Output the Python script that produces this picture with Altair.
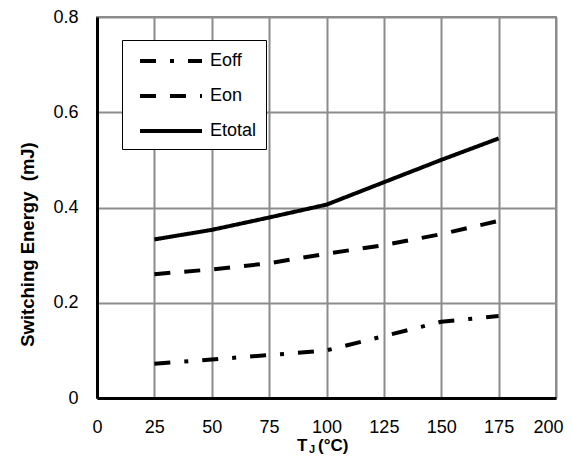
import altair as alt
import pandas as pd

temps = [25, 50, 75, 100, 125, 150, 175]
eoff = [0.072, 0.081, 0.090, 0.100, 0.130, 0.160, 0.172]
eon = [0.260, 0.270, 0.283, 0.303, 0.321, 0.344, 0.372]
etotal = [0.333, 0.353, 0.379, 0.406, 0.453, 0.500, 0.545]
series = ["Eoff", "Eon", "Etotal"]
x_ticks = [0, 25, 50, 75, 100, 125, 150, 175, 200]
y_ticks = [0, 0.2, 0.4, 0.6, 0.8]

rows = []
for name, vals in zip(series, [eoff, eon, etotal]):
    for t, v in zip(temps, vals):
        rows.append({"T": t, "E": v, "s": name})
df = pd.DataFrame(rows)

FONT = "Liberation Sans"

lines = alt.Chart(df).mark_line(color="black", strokeWidth=4, strokeCap="butt", strokeJoin="round").encode(
    x=alt.X("T:Q", scale=alt.Scale(domain=[0, 200], nice=False),
            axis=alt.Axis(values=x_ticks, title=None, labelPadding=20,
                          labelAlign={"condition": {"test": "datum.value == 200", "value": "right"},
                                      "value": "center"},
                          labelOffset={"condition": {"test": "datum.value == 200", "value": 7},
                                       "value": 0})),
    y=alt.Y("E:Q", scale=alt.Scale(domain=[0, 0.8], nice=False),
            axis=alt.Axis(values=y_ticks, title="Switching Energy\u00a0 (mJ)",
                          labelExpr="datum.value == 0 ? '0' : format(datum.value, '.1f')",
                          labelPadding=19, titleX=-64, titleY=227, titleFontSize=18.5,
                          titleBaseline="alphabetic", titleAngle=270)),
    strokeDash=alt.StrokeDash("s:N", scale=alt.Scale(domain=series,
                              range=[[16, 14, 4, 14], [16, 14], [1, 0]]),
                              legend=alt.Legend(title=None, orient="none", legendX=25, legendY=23,
                                                symbolType="M-0.3,0H5.9", symbolSize=400,
                                                symbolStrokeWidth=4, symbolStrokeColor="black",
                                                symbolFillColor="transparent",
                                                labelFontSize=18, labelFont=FONT, labelColor="black",
                                                labelOffset=55, padding=9, rowPadding=14,
                                                strokeColor="black", fillColor="white")),
)

title_df = pd.DataFrame({"dummy": [0]})
t_main = alt.Chart(title_df).mark_text(align="left", baseline="alphabetic", font=FONT,
                                       fontSize=17, fontWeight="bold", color="black").encode(
    x=alt.value(200), y=alt.value(434), text=alt.value("T"))
t_sub = alt.Chart(title_df).mark_text(align="left", baseline="alphabetic", font=FONT,
                                      fontSize=11, fontWeight="bold", color="black").encode(
    x=alt.value(212), y=alt.value(436), text=alt.value("J"))
t_rest = alt.Chart(title_df).mark_text(align="left", baseline="alphabetic", font=FONT,
                                       fontSize=17, fontWeight="bold", color="black").encode(
    x=alt.value(221), y=alt.value(434), text=alt.value("(°C)"))

chart = alt.layer(lines, t_main, t_sub, t_rest).properties(
    width=459, height=381,
    autosize=alt.AutoSizeParams(type="none"),
    padding={"left": 89, "top": 9, "right": 8, "bottom": 57},
).configure_view(stroke="#8c8c8c", strokeWidth=2).configure_axis(
    grid=True, gridColor="#8c8c8c", gridWidth=2, gridOpacity=1,
    domainColor="black", domainWidth=3, ticks=False, tickSize=0,
    labelFont=FONT, labelFontSize=18, labelColor="black", labelFlush=False,
    titleFont=FONT, titleFontSize=18, titleFontWeight="bold", titleColor="black",
)

chart.save("out.html", embed_options={"renderer": "svg", "actions": False})
